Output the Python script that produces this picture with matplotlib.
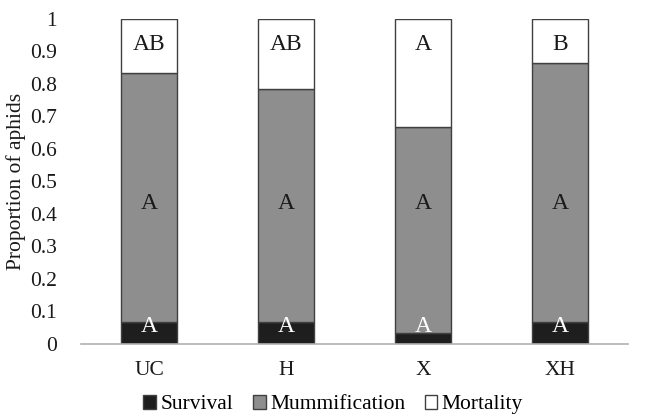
import matplotlib.pyplot as plt
import numpy as np

treatments = ["UC", "H", "X", "XH"]
survival = [0.067, 0.067, 0.033, 0.067]
mummification = [0.767, 0.717, 0.633, 0.797]
mortality = [1 - s - m for s, m in zip(survival, mummification)]

letters_surv = ["A", "A", "A", "A"]
letters_mumm = ["A", "A", "A", "A"]
letters_mort = ["AB", "AB", "A", "B"]

plt.rcParams['font.family'] = ['Liberation Serif', 'DejaVu Serif']

fig = plt.figure(figsize=(6.47, 4.19), dpi=100)
ax = fig.add_axes([0.125, 0.179, 0.846, 0.776])

x = np.arange(len(treatments))
w = 0.41
edge = "#404040"
ax.bar(x, survival, w, color="#1e1e1e", edgecolor=edge, linewidth=1, label="Survival")
ax.bar(x, mummification, w, bottom=survival, color="#8e8e8e", edgecolor=edge,
       linewidth=1, label="Mummification")
bottom2 = [s + m for s, m in zip(survival, mummification)]
ax.bar(x, mortality, w, bottom=bottom2, color="white", edgecolor=edge,
       linewidth=1, label="Mortality")

for i in x:
    ax.text(i, 0.055, letters_surv[i], ha="center", va="center", fontsize=17, color="white")
    ax.text(i, 0.433, letters_mumm[i], ha="center", va="center", fontsize=17, color="#1a1a1a")
    ax.text(i, 0.922, letters_mort[i], ha="center", va="center", fontsize=17, color="#1a1a1a")

ax.set_xlim(-0.5, 3.5)
ax.set_ylim(0, 1)
ax.set_yticks(np.arange(0, 1.01, 0.1))
ax.set_yticklabels(["0", "0.1", "0.2", "0.3", "0.4", "0.5", "0.6", "0.7", "0.8", "0.9", "1"])
ax.set_xticks(x)
ax.set_xticklabels(treatments)
ax.tick_params(axis="both", length=0, labelsize=15.5, colors="#1a1a1a")
ax.tick_params(axis="x", pad=12)
ax.tick_params(axis="y", pad=17)
for s in ["top", "right", "left"]:
    ax.spines[s].set_visible(False)
ax.spines["bottom"].set_color("#b0b0b0")
ax.spines["bottom"].set_linewidth(1.2)
ax.set_ylabel("Proportion of aphids", fontsize=15.5, color="#1a1a1a", labelpad=3)

fig.legend(loc="lower center", bbox_to_anchor=(0.515, -0.035), ncol=3, frameon=False,
           fontsize=15.5, handlelength=0.6, handleheight=0.6, handletextpad=0.2,
           columnspacing=0.9)

fig.savefig("out.png", dpi=100)
